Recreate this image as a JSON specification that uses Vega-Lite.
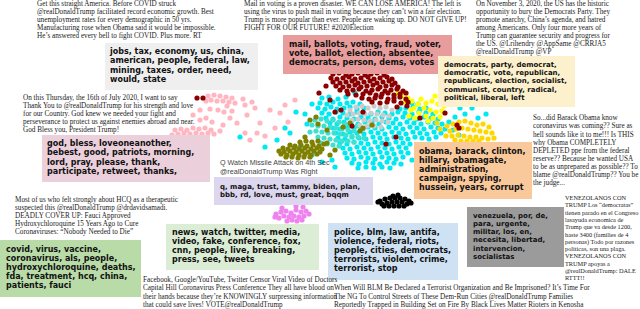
{
"$schema": "https://vega.github.io/schema/vega-lite/v6.json",
"width": 640, "height": 309, "padding": 0, "autosize": {"type": "none"},
"background": "white",
"config": {"view": {"stroke": null}},
"datasets": {
"pts": [
{"c":"c","x":322,"y":98},{"c":"c","x":329,"y":97},{"c":"c","x":338,"y":99},{"c":"c","x":346,"y":97},
{"c":"c","x":320,"y":103},{"c":"c","x":327,"y":104},{"c":"c","x":333,"y":102},{"c":"c","x":340,"y":104},{"c":"c","x":347,"y":103},{"c":"c","x":353,"y":102},{"c":"c","x":360,"y":104},{"c":"c","x":412,"y":103},{"c":"c","x":418,"y":104},
{"c":"c","x":318,"y":108},{"c":"c","x":325,"y":109},{"c":"c","x":331,"y":107},{"c":"c","x":337,"y":109},{"c":"c","x":344,"y":108},{"c":"c","x":350,"y":107},{"c":"c","x":357,"y":109},{"c":"c","x":364,"y":108},{"c":"c","x":400,"y":109},{"c":"c","x":406,"y":108},{"c":"c","x":413,"y":107},{"c":"c","x":420,"y":109},{"c":"c","x":426,"y":108},
{"c":"c","x":322,"y":113},{"c":"c","x":329,"y":114},{"c":"c","x":336,"y":112},{"c":"c","x":343,"y":113},{"c":"c","x":350,"y":114},{"c":"c","x":357,"y":112},{"c":"c","x":364,"y":113},{"c":"c","x":371,"y":114},{"c":"c","x":378,"y":112},{"c":"c","x":385,"y":113},{"c":"c","x":392,"y":114},{"c":"c","x":398,"y":112},{"c":"c","x":405,"y":113},{"c":"c","x":412,"y":114},{"c":"c","x":419,"y":112},{"c":"c","x":426,"y":113},{"c":"c","x":433,"y":114},
{"c":"c","x":326,"y":118},{"c":"c","x":333,"y":119},{"c":"c","x":340,"y":117},{"c":"c","x":347,"y":118},{"c":"c","x":354,"y":119},{"c":"c","x":361,"y":117},{"c":"c","x":368,"y":118},{"c":"c","x":375,"y":119},{"c":"c","x":382,"y":117},{"c":"c","x":389,"y":118},{"c":"c","x":396,"y":119},{"c":"c","x":403,"y":117},{"c":"c","x":410,"y":118},{"c":"c","x":417,"y":119},{"c":"c","x":424,"y":117},{"c":"c","x":431,"y":118},{"c":"c","x":438,"y":119},
{"c":"c","x":330,"y":123},{"c":"c","x":337,"y":124},{"c":"c","x":344,"y":122},{"c":"c","x":351,"y":123},{"c":"c","x":358,"y":124},{"c":"c","x":365,"y":122},{"c":"c","x":372,"y":123},{"c":"c","x":379,"y":124},{"c":"c","x":386,"y":122},{"c":"c","x":393,"y":123},{"c":"c","x":400,"y":124},{"c":"c","x":407,"y":122},{"c":"c","x":414,"y":123},{"c":"c","x":421,"y":124},{"c":"c","x":428,"y":122},{"c":"c","x":435,"y":123},{"c":"c","x":442,"y":124},{"c":"c","x":449,"y":122},
{"c":"c","x":333,"y":128},{"c":"c","x":340,"y":129},{"c":"c","x":347,"y":127},{"c":"c","x":354,"y":128},{"c":"c","x":361,"y":129},{"c":"c","x":368,"y":127},{"c":"c","x":375,"y":128},{"c":"c","x":382,"y":129},{"c":"c","x":389,"y":127},{"c":"c","x":396,"y":128},{"c":"c","x":403,"y":129},{"c":"c","x":410,"y":127},{"c":"c","x":417,"y":128},{"c":"c","x":424,"y":129},{"c":"c","x":431,"y":127},{"c":"c","x":438,"y":128},{"c":"c","x":445,"y":129},
{"c":"c","x":336,"y":133},{"c":"c","x":343,"y":134},{"c":"c","x":350,"y":132},{"c":"c","x":357,"y":133},{"c":"c","x":364,"y":134},{"c":"c","x":371,"y":132},{"c":"c","x":378,"y":133},{"c":"c","x":385,"y":134},{"c":"c","x":392,"y":132},{"c":"c","x":399,"y":133},{"c":"c","x":406,"y":134},{"c":"c","x":413,"y":132},{"c":"c","x":420,"y":133},{"c":"c","x":427,"y":134},{"c":"c","x":434,"y":132},{"c":"c","x":441,"y":133},
{"c":"c","x":338,"y":138},{"c":"c","x":345,"y":139},{"c":"c","x":352,"y":137},{"c":"c","x":359,"y":138},{"c":"c","x":366,"y":139},{"c":"c","x":373,"y":137},{"c":"c","x":380,"y":138},{"c":"c","x":387,"y":139},{"c":"c","x":394,"y":137},{"c":"c","x":401,"y":138},{"c":"c","x":408,"y":139},{"c":"c","x":415,"y":137},{"c":"c","x":422,"y":138},{"c":"c","x":429,"y":139},{"c":"c","x":436,"y":137},
{"c":"c","x":340,"y":143},{"c":"c","x":347,"y":144},{"c":"c","x":354,"y":142},{"c":"c","x":361,"y":143},{"c":"c","x":368,"y":144},{"c":"c","x":375,"y":142},{"c":"c","x":382,"y":143},{"c":"c","x":389,"y":144},{"c":"c","x":396,"y":142},{"c":"c","x":403,"y":143},{"c":"c","x":410,"y":144},
{"c":"c","x":343,"y":148},{"c":"c","x":350,"y":149},{"c":"c","x":357,"y":147},{"c":"c","x":364,"y":148},{"c":"c","x":371,"y":149},{"c":"c","x":378,"y":147},{"c":"c","x":385,"y":148},{"c":"c","x":392,"y":149},{"c":"c","x":399,"y":147},{"c":"c","x":406,"y":148},
{"c":"c","x":345,"y":153},{"c":"c","x":352,"y":154},{"c":"c","x":359,"y":152},{"c":"c","x":366,"y":153},{"c":"c","x":373,"y":154},{"c":"c","x":380,"y":152},{"c":"c","x":387,"y":153},{"c":"c","x":394,"y":154},{"c":"c","x":401,"y":152},{"c":"c","x":408,"y":153},
{"c":"c","x":347,"y":158},{"c":"c","x":354,"y":159},{"c":"c","x":361,"y":157},{"c":"c","x":368,"y":158},{"c":"c","x":375,"y":159},{"c":"c","x":382,"y":157},{"c":"c","x":389,"y":158},{"c":"c","x":396,"y":159},{"c":"c","x":403,"y":157},
{"c":"c","x":352,"y":163},{"c":"c","x":359,"y":164},{"c":"c","x":366,"y":162},{"c":"c","x":373,"y":163},{"c":"c","x":380,"y":164},{"c":"c","x":387,"y":162},{"c":"c","x":394,"y":163},{"c":"c","x":401,"y":164},
{"c":"c","x":358,"y":168},{"c":"c","x":366,"y":167},{"c":"c","x":374,"y":168},{"c":"c","x":382,"y":167},{"c":"c","x":390,"y":168},
{"c":"c","x":240,"y":137},{"c":"c","x":277,"y":140},{"c":"c","x":290,"y":133},{"c":"c","x":307,"y":124},{"c":"c","x":296,"y":112},{"c":"c","x":285,"y":128},{"c":"c","x":265,"y":147},{"c":"c","x":300,"y":147},{"c":"c","x":312,"y":155},{"c":"c","x":322,"y":162},{"c":"c","x":332,"y":160},{"c":"c","x":335,"y":167},{"c":"c","x":455,"y":117},{"c":"c","x":465,"y":114},{"c":"c","x":478,"y":118},{"c":"c","x":486,"y":114},{"c":"c","x":472,"y":108},{"c":"c","x":460,"y":108},{"c":"c","x":355,"y":93},{"c":"c","x":312,"y":104},{"c":"c","x":305,"y":114},{"c":"c","x":453,"y":130},{"c":"c","x":459,"y":135},{"c":"c","x":412,"y":160},
{"c":"t","x":315,"y":120},{"c":"t","x":321,"y":119},{"c":"t","x":327,"y":121},{"c":"t","x":333,"y":120},{"c":"t","x":339,"y":122},{"c":"t","x":345,"y":124},{"c":"t","x":312,"y":125},{"c":"t","x":318,"y":126},{"c":"t","x":324,"y":126},{"c":"t","x":330,"y":127},{"c":"t","x":336,"y":128},{"c":"t","x":342,"y":129},{"c":"t","x":348,"y":130},{"c":"t","x":354,"y":131},{"c":"t","x":316,"y":131},{"c":"t","x":322,"y":132},{"c":"t","x":328,"y":133},{"c":"t","x":334,"y":133},{"c":"t","x":340,"y":134},{"c":"t","x":346,"y":135},{"c":"t","x":352,"y":136},{"c":"t","x":358,"y":137},{"c":"t","x":364,"y":138},{"c":"t","x":318,"y":137},{"c":"t","x":324,"y":138},{"c":"t","x":330,"y":139},{"c":"t","x":336,"y":140},{"c":"t","x":342,"y":141},{"c":"t","x":348,"y":141},{"c":"t","x":354,"y":142},{"c":"t","x":321,"y":143},{"c":"t","x":327,"y":144},{"c":"t","x":333,"y":145},{"c":"t","x":339,"y":146},{"c":"t","x":310,"y":132},{"c":"t","x":357,"y":126},{"c":"t","x":363,"y":129},
{"c":"l","x":350,"y":110},{"c":"l","x":356,"y":107},{"c":"l","x":362,"y":106},{"c":"l","x":368,"y":108},{"c":"l","x":374,"y":106},{"c":"l","x":380,"y":108},{"c":"l","x":386,"y":107},{"c":"l","x":392,"y":110},{"c":"l","x":347,"y":115},{"c":"l","x":353,"y":114},{"c":"l","x":359,"y":113},{"c":"l","x":365,"y":114},{"c":"l","x":371,"y":113},{"c":"l","x":377,"y":114},{"c":"l","x":383,"y":115},{"c":"l","x":389,"y":116},{"c":"l","x":352,"y":120},{"c":"l","x":358,"y":119},{"c":"l","x":364,"y":120},{"c":"l","x":370,"y":121},{"c":"l","x":376,"y":120},{"c":"l","x":382,"y":121},{"c":"l","x":388,"y":122},{"c":"l","x":360,"y":125},{"c":"l","x":367,"y":126},{"c":"l","x":374,"y":126},{"c":"l","x":381,"y":127},
{"c":"o","x":300,"y":142},{"c":"o","x":306,"y":141},{"c":"o","x":312,"y":142},{"c":"o","x":318,"y":141},
{"c":"o","x":290,"y":145},{"c":"o","x":295,"y":146},{"c":"o","x":301,"y":145},{"c":"o","x":307,"y":146},{"c":"o","x":313,"y":145},{"c":"o","x":319,"y":146},{"c":"o","x":324,"y":144},
{"c":"o","x":283,"y":148},{"c":"o","x":288,"y":149},{"c":"o","x":294,"y":148},{"c":"o","x":299,"y":149},{"c":"o","x":305,"y":148},{"c":"o","x":311,"y":149},{"c":"o","x":317,"y":148},{"c":"o","x":322,"y":149},
{"c":"o","x":279,"y":151},{"c":"o","x":284,"y":152},{"c":"o","x":290,"y":151},{"c":"o","x":296,"y":152},{"c":"o","x":302,"y":151},{"c":"o","x":308,"y":152},{"c":"o","x":314,"y":151},{"c":"o","x":320,"y":152},
{"c":"o","x":281,"y":154},{"c":"o","x":287,"y":155},{"c":"o","x":293,"y":154},{"c":"o","x":299,"y":155},{"c":"o","x":305,"y":154},{"c":"o","x":311,"y":155},{"c":"o","x":317,"y":154},
{"c":"o","x":286,"y":157},{"c":"o","x":292,"y":157},{"c":"o","x":298,"y":158},{"c":"o","x":304,"y":157},{"c":"o","x":310,"y":157},
{"c":"o","x":310,"y":120},{"c":"o","x":316,"y":117},{"c":"o","x":318,"y":124},{"c":"o","x":327,"y":130},{"c":"o","x":305,"y":137},{"c":"o","x":343,"y":127},{"c":"o","x":350,"y":123},{"c":"o","x":363,"y":128},{"c":"o","x":372,"y":125},{"c":"o","x":360,"y":131},{"c":"o","x":327,"y":143},{"c":"o","x":335,"y":150},{"c":"o","x":330,"y":155},
{"c":"p","x":208,"y":96},{"c":"p","x":214,"y":95},{"c":"p","x":220,"y":96},{"c":"p","x":226,"y":97},{"c":"p","x":232,"y":98},{"c":"p","x":211,"y":100},{"c":"p","x":217,"y":101},{"c":"p","x":223,"y":101},{"c":"p","x":229,"y":102},{"c":"p","x":206,"y":101},{"c":"p","x":235,"y":103},
{"c":"p","x":243,"y":99},{"c":"p","x":252,"y":102},{"c":"p","x":227,"y":106},{"c":"p","x":245,"y":105},{"c":"p","x":255,"y":108},{"c":"p","x":210,"y":109},{"c":"p","x":218,"y":110},{"c":"p","x":224,"y":112},{"c":"p","x":232,"y":111},{"c":"p","x":200,"y":110},{"c":"p","x":193,"y":115},{"c":"p","x":247,"y":115},{"c":"p","x":260,"y":123},{"c":"p","x":237,"y":123},{"c":"p","x":223,"y":125},{"c":"p","x":212,"y":122},{"c":"p","x":270,"y":110},{"c":"p","x":280,"y":113},{"c":"p","x":288,"y":122},{"c":"p","x":257,"y":133},{"c":"p","x":275,"y":128},{"c":"p","x":265,"y":136},{"c":"p","x":245,"y":133},{"c":"p","x":285,"y":105},{"c":"p","x":295,"y":100},{"c":"p","x":230,"y":118},{"c":"p","x":250,"y":140},{"c":"p","x":200,"y":120},{"c":"p","x":206,"y":118},
{"c":"p","x":175,"y":130},{"c":"p","x":181,"y":129},{"c":"p","x":187,"y":130},{"c":"p","x":193,"y":128},{"c":"p","x":199,"y":129},{"c":"p","x":205,"y":128},{"c":"p","x":211,"y":130},{"c":"p","x":178,"y":134},{"c":"p","x":184,"y":133},{"c":"p","x":190,"y":134},{"c":"p","x":196,"y":133},{"c":"p","x":202,"y":134},{"c":"p","x":208,"y":133},{"c":"p","x":214,"y":134},{"c":"p","x":172,"y":135},{"c":"p","x":220,"y":131},
{"c":"y","x":402,"y":96},{"c":"y","x":408,"y":98},{"c":"y","x":405,"y":102},{"c":"y","x":412,"y":101},{"c":"y","x":418,"y":104},{"c":"y","x":414,"y":108},{"c":"y","x":421,"y":99},{"c":"y","x":426,"y":103},{"c":"y","x":432,"y":101},{"c":"y","x":438,"y":104},{"c":"y","x":444,"y":106},{"c":"y","x":424,"y":108},{"c":"y","x":430,"y":110},{"c":"y","x":436,"y":112},{"c":"y","x":442,"y":111},{"c":"y","x":419,"y":113},{"c":"y","x":426,"y":116},{"c":"y","x":433,"y":118},{"c":"y","x":440,"y":117},{"c":"y","x":411,"y":110},{"c":"y","x":428,"y":121},{"c":"y","x":409,"y":116},{"c":"y","x":415,"y":118},{"c":"y","x":435,"y":96},{"c":"y","x":398,"y":93},
{"c":"g","x":447,"y":126},{"c":"g","x":453,"y":124},{"c":"g","x":459,"y":122},{"c":"g","x":465,"y":121},{"c":"g","x":471,"y":123},{"c":"g","x":477,"y":125},{"c":"g","x":483,"y":124},{"c":"g","x":489,"y":127},{"c":"g","x":450,"y":131},{"c":"g","x":456,"y":129},{"c":"g","x":462,"y":128},{"c":"g","x":468,"y":129},{"c":"g","x":474,"y":130},{"c":"g","x":480,"y":131},{"c":"g","x":486,"y":132},{"c":"g","x":492,"y":133},{"c":"g","x":446,"y":136},{"c":"g","x":452,"y":136},{"c":"g","x":458,"y":135},{"c":"g","x":464,"y":136},{"c":"g","x":470,"y":137},{"c":"g","x":476,"y":137},{"c":"g","x":482,"y":138},{"c":"g","x":488,"y":139},{"c":"g","x":494,"y":138},{"c":"g","x":455,"y":140},{"c":"g","x":461,"y":141},{"c":"g","x":467,"y":141},{"c":"g","x":473,"y":141},{"c":"g","x":479,"y":141},{"c":"g","x":440,"y":129},{"c":"g","x":437,"y":123},
{"c":"m","x":333,"y":74},{"c":"m","x":339,"y":73},{"c":"m","x":346,"y":75},{"c":"m","x":352,"y":74},{"c":"m","x":358,"y":73},{"c":"m","x":365,"y":75},{"c":"m","x":371,"y":74},{"c":"m","x":377,"y":73},{"c":"m","x":384,"y":75},
{"c":"m","x":331,"y":78},{"c":"m","x":337,"y":79},{"c":"m","x":343,"y":78},{"c":"m","x":349,"y":77},{"c":"m","x":355,"y":79},{"c":"m","x":361,"y":78},{"c":"m","x":368,"y":77},{"c":"m","x":374,"y":79},{"c":"m","x":380,"y":78},{"c":"m","x":387,"y":77},{"c":"m","x":392,"y":79},
{"c":"m","x":333,"y":82},{"c":"m","x":340,"y":83},{"c":"m","x":346,"y":82},{"c":"m","x":352,"y":81},{"c":"m","x":358,"y":83},{"c":"m","x":364,"y":82},{"c":"m","x":370,"y":81},{"c":"m","x":377,"y":83},{"c":"m","x":383,"y":82},{"c":"m","x":389,"y":81},{"c":"m","x":395,"y":83},
{"c":"m","x":336,"y":86},{"c":"m","x":343,"y":87},{"c":"m","x":349,"y":86},{"c":"m","x":355,"y":85},{"c":"m","x":361,"y":87},{"c":"m","x":367,"y":86},{"c":"m","x":373,"y":85},{"c":"m","x":380,"y":87},{"c":"m","x":386,"y":86},{"c":"m","x":392,"y":85},{"c":"m","x":398,"y":87},
{"c":"m","x":340,"y":90},{"c":"m","x":347,"y":91},{"c":"m","x":353,"y":90},{"c":"m","x":359,"y":89},{"c":"m","x":366,"y":91},{"c":"m","x":372,"y":90},{"c":"m","x":378,"y":89},{"c":"m","x":385,"y":91},{"c":"m","x":391,"y":90},{"c":"m","x":397,"y":89},{"c":"m","x":403,"y":91},
{"c":"m","x":348,"y":94},{"c":"m","x":356,"y":95},{"c":"m","x":363,"y":94},{"c":"m","x":370,"y":93},{"c":"m","x":376,"y":95},{"c":"m","x":382,"y":94},{"c":"m","x":388,"y":93},{"c":"m","x":394,"y":95},{"c":"m","x":400,"y":94},{"c":"m","x":406,"y":93},
{"c":"m","x":362,"y":98},{"c":"m","x":369,"y":99},{"c":"m","x":375,"y":98},{"c":"m","x":381,"y":97},{"c":"m","x":388,"y":99},{"c":"m","x":394,"y":98},{"c":"m","x":400,"y":97},{"c":"m","x":406,"y":99},
{"c":"m","x":372,"y":102},{"c":"m","x":380,"y":103},{"c":"m","x":387,"y":102},{"c":"m","x":394,"y":101},{"c":"m","x":401,"y":103},{"c":"m","x":408,"y":102},
{"c":"m","x":335,"y":112},{"c":"m","x":341,"y":110},{"c":"m","x":363,"y":112},{"c":"m","x":397,"y":107},{"c":"m","x":407,"y":106},{"c":"m","x":459,"y":128},{"c":"m","x":396,"y":137},{"c":"m","x":445,"y":113},{"c":"m","x":457,"y":125},{"c":"m","x":420,"y":118},{"c":"m","x":326,"y":86},{"c":"m","x":319,"y":93},{"c":"m","x":197,"y":98},{"c":"m","x":203,"y":98},{"c":"m","x":352,"y":126},{"c":"m","x":386,"y":144},{"c":"m","x":330,"y":100},
{"c":"v","x":276,"y":214},{"c":"v","x":281,"y":212},{"c":"v","x":286,"y":211},{"c":"v","x":291,"y":213},{"c":"v","x":296,"y":210},{"c":"v","x":301,"y":212},{"c":"v","x":306,"y":211},{"c":"v","x":279,"y":218},{"c":"v","x":284,"y":216},{"c":"v","x":289,"y":217},{"c":"v","x":294,"y":216},{"c":"v","x":299,"y":217},{"c":"v","x":304,"y":216},{"c":"v","x":309,"y":214},{"c":"v","x":287,"y":221},{"c":"v","x":292,"y":220},{"c":"v","x":297,"y":221},{"c":"v","x":302,"y":220},{"c":"v","x":275,"y":217},{"c":"v","x":296,"y":206},{"c":"v","x":303,"y":207},{"c":"v","x":282,"y":208},
{"c":"k","x":380,"y":201},{"c":"k","x":385,"y":199},{"c":"k","x":390,"y":198},{"c":"k","x":395,"y":198},{"c":"k","x":400,"y":198},{"c":"k","x":405,"y":199},{"c":"k","x":409,"y":201},{"c":"k","x":382,"y":204},{"c":"k","x":387,"y":203},{"c":"k","x":392,"y":202},{"c":"k","x":397,"y":202},{"c":"k","x":402,"y":202},{"c":"k","x":407,"y":204},{"c":"k","x":411,"y":203},{"c":"k","x":384,"y":206},{"c":"k","x":389,"y":206},{"c":"k","x":394,"y":206},{"c":"k","x":399,"y":206},{"c":"k","x":404,"y":206},{"c":"k","x":378,"y":202},{"c":"k","x":393,"y":196},{"c":"k","x":398,"y":195}
],
"boxes": [
{"b":"jobs","x":105,"x2":258,"y":43,"y2":90},
{"b":"mail","x":283,"x2":452,"y":35,"y2":74},
{"b":"dem","x":438,"x2":575,"y":56,"y2":107},
{"b":"god","x":42,"x2":210,"y":135,"y2":182},
{"b":"obama","x":414,"x2":532,"y":142,"y2":199},
{"b":"q","x":214,"x2":373,"y":177,"y2":205},
{"b":"covid","x":0,"x2":141,"y":240,"y2":297},
{"b":"news","x":166,"x2":319,"y":224,"y2":270},
{"b":"police","x":328,"x2":458,"y":223,"y2":280},
{"b":"ven","x":467,"x2":564,"y":207,"y2":267}
],
"txt": [
{"g":"k8","x":110,"y":52.3,"t":"jobs, tax, economy, us, china,"},
{"g":"k8","x":110,"y":61.4,"t":"american, people, federal, law,"},
{"g":"k8","x":110,"y":70.5,"t":"mining, taxes, order, need,"},
{"g":"k8","x":110,"y":79.6,"t":"would, state"},
{"g":"k8","x":289,"y":45,"t":"mail, ballots, voting, fraud, voter,"},
{"g":"k8","x":289,"y":54,"t":"vote, ballot, election, absentee,"},
{"g":"k8","x":289,"y":63,"t":"democrats, person, dems, votes"},
{"g":"k8","x":47,"y":144.3,"t":"god, bless, loveoneanother,"},
{"g":"k8","x":47,"y":153.4,"t":"bebest, good, patriots, morning,"},
{"g":"k8","x":47,"y":162.5,"t":"lord, pray, please, thank,"},
{"g":"k8","x":47,"y":171.6,"t":"participate, retweet, thanks,"},
{"g":"k8","x":419,"y":152,"t":"obama, barack, clinton,"},
{"g":"k8","x":419,"y":161,"t":"hillary, obamagate,"},
{"g":"k8","x":419,"y":170,"t":"administration,"},
{"g":"k8","x":419,"y":179,"t":"campaign, spying,"},
{"g":"k8","x":419,"y":188,"t":"hussein, years, corrupt"},
{"g":"k8","x":6,"y":250,"t":"covid, virus, vaccine,"},
{"g":"k8","x":6,"y":259,"t":"coronavirus, als, people,"},
{"g":"k8","x":6,"y":268,"t":"hydroxychloroquine, deaths,"},
{"g":"k8","x":6,"y":277,"t":"fda, treatment, hcq, china,"},
{"g":"k8","x":6,"y":286,"t":"patients, fauci"},
{"g":"k8","x":172,"y":232.7,"t":"news, watch, twitter, media,"},
{"g":"k8","x":172,"y":241.7,"t":"video, fake, conference, fox,"},
{"g":"k8","x":172,"y":250.7,"t":"cnn, people, live, breaking,"},
{"g":"k8","x":172,"y":259.7,"t":"press, see, tweets"},
{"g":"k8","x":334,"y":233,"t":"police, blm, law, antifa,"},
{"g":"k8","x":334,"y":242,"t":"violence, federal, riots,"},
{"g":"k8","x":334,"y":251,"t":"people, cities, democrats,"},
{"g":"k8","x":334,"y":260,"t":"terrorists, violent, crime,"},
{"g":"k8","x":334,"y":269,"t":"terrorist, stop"},
{"g":"k7","x":444,"y":65,"t":"democrats, party, democrat,"},
{"g":"k7","x":444,"y":73.2,"t":"democratic, vote, republican,"},
{"g":"k7","x":444,"y":81.4,"t":"republicans, election, socialist,"},
{"g":"k7","x":444,"y":89.6,"t":"communist, country, radical,"},
{"g":"k7","x":444,"y":97.8,"t":"political, liberal, left"},
{"g":"k7","x":220,"y":186.7,"t":"q, maga, trust, tammy, biden, plan,"},
{"g":"k7","x":220,"y":195,"t":"bbb, rd, love, must, great, bqqm"},
{"g":"k7","x":473,"y":215.7,"t":"venezuela, por, de,"},
{"g":"k7","x":473,"y":223.9,"t":"para, urgente,"},
{"g":"k7","x":473,"y":232.1,"t":"militar, los, en,"},
{"g":"k7","x":473,"y":240.3,"t":"necesita, libertad,"},
{"g":"k7","x":473,"y":248.5,"t":"intervencion,"},
{"g":"k7","x":473,"y":256.7,"t":"socialistas"},
{"g":"tw","x":37,"y":3.5,"t":"Get this straight America. Before COVID struck"},
{"g":"tw","x":37,"y":11.6,"t":"@realDonaldTrump facilitated record economic growth. Best"},
{"g":"tw","x":37,"y":19.7,"t":"unemployment rates for every demographic in 50 yrs."},
{"g":"tw","x":37,"y":27.8,"t":"Manufacturing rose when Obama said it would be impossible."},
{"g":"tw","x":37,"y":35.9,"t":"He’s answered every bell to fight COVID. Plus more. RT"},
{"g":"tw","x":244,"y":3.5,"t":"Mail in voting is a proven disaster. WE CAN LOSE AMERICA! The left is"},
{"g":"tw","x":244,"y":11.6,"t":"using the virus to push mail in voting because they can’t win a fair election."},
{"g":"tw","x":244,"y":19.7,"t":"Trump is more popular than ever. People are waking up. DO NOT GIVE UP!"},
{"g":"tw","x":244,"y":27.8,"t":"FIGHT FOR OUR FUTURE! #2020Election"},
{"g":"tw","x":476,"y":3.5,"t":"On November 3, 2020, the US has the historic"},
{"g":"tw","x":476,"y":11.6,"t":"opportunity to bury the Democrats Party. They"},
{"g":"tw","x":476,"y":19.7,"t":"promote anarchy, China’s agenda, and hatred"},
{"g":"tw","x":476,"y":27.8,"t":"among Americans. Only four more years of"},
{"g":"tw","x":476,"y":35.9,"t":"Trump can guarantee security and progress for"},
{"g":"tw","x":476,"y":44,"t":"the US. @Lrihendry @AppSame @CRRJA5"},
{"g":"tw","x":476,"y":52.1,"t":"@realDonaldTrump @VP"},
{"g":"tw","x":23,"y":97.7,"t":"On this Thursday, the 16th of July 2020, I want to say"},
{"g":"tw","x":23,"y":105.8,"t":"Thank You to @realDonaldTrump for his strength and love"},
{"g":"tw","x":23,"y":113.9,"t":"for our Country. God knew we needed your fight and"},
{"g":"tw","x":23,"y":122,"t":"perseverance to protect us against enemies abroad and near."},
{"g":"tw","x":23,"y":130.1,"t":"God Bless you, President Trump!"},
{"g":"tw","x":533,"y":118.3,"t":"So...did Barack Obama know"},
{"g":"tw","x":533,"y":126.4,"t":"coronavirus was coming?? Sure as"},
{"g":"tw","x":533,"y":134.5,"t":"hell sounds like it to me!!! Is THIS"},
{"g":"tw","x":533,"y":142.6,"t":"why Obama COMPLETELY"},
{"g":"tw","x":533,"y":150.7,"t":"DEPLETED ppe from the federal"},
{"g":"tw","x":533,"y":158.8,"t":"reserve?? Because he wanted USA"},
{"g":"tw","x":533,"y":166.9,"t":"to be as unprepared as possible?? To"},
{"g":"tw","x":533,"y":175,"t":"blame @realDonaldTrump?? You be"},
{"g":"tw","x":533,"y":183.1,"t":"the judge..."},
{"g":"tw","x":15,"y":200,"t":"Most of us who felt strongly about HCQ as a therapeutic"},
{"g":"tw","x":15,"y":208,"t":"suspected this @realDonaldTrump @drdavidsamadi."},
{"g":"tw","x":15,"y":216,"t":"DEADLY COVER UP: Fauci Approved"},
{"g":"tw","x":15,"y":224,"t":"Hydroxychloroquine 15 Years Ago to Cure"},
{"g":"tw","x":15,"y":232,"t":"Coronaviruses: “Nobody Needed to Die”"},
{"g":"tw","x":143,"y":280,"t":"Facebook, Google/YouTube, Twitter Censor Viral Video of Doctors"},
{"g":"tw","x":143,"y":288.3,"t":"Capital Hill Coronavirus Press Conference They all have blood on"},
{"g":"tw","x":143,"y":296.6,"t":"their hands because they’re KNOWINGLY surpressing information"},
{"g":"tw","x":143,"y":304.9,"t":"that could save lives! VOTE@realDonaldTrump"},
{"g":"tw","x":334,"y":288.3,"t":"When Will BLM Be Declared a Terrorist Organization and Be Imprisoned? It’s Time For"},
{"g":"tw","x":334,"y":296.6,"t":"The NG To Control Streets of These Dem-Run Cities @realDonaldTrump Families"},
{"g":"tw","x":334,"y":304.9,"t":"Reportedly Trapped in Building Set on Fire By Black Lives Matter Rioters in Kenosha"},
{"g":"vz","x":565,"y":198,"t":"VENEZOLANOS CON"},
{"g":"vz","x":565,"y":205.3,"t":"TRUMP Los “democratas”"},
{"g":"vz","x":565,"y":212.6,"t":"tienen parado en el Congreso"},
{"g":"vz","x":565,"y":219.9,"t":"lasayuda economica de"},
{"g":"vz","x":565,"y":227.2,"t":"Trump que va desde 1200,"},
{"g":"vz","x":565,"y":234.5,"t":"haste 3400 (families de 4"},
{"g":"vz","x":565,"y":241.8,"t":"personas) Todo por razones"},
{"g":"vz","x":565,"y":249.1,"t":"politicas, son una plaga."},
{"g":"vz","x":565,"y":256.4,"t":"VENEZOLANOS CON"},
{"g":"vz","x":565,"y":263.7,"t":"TRUMP apoyas a"},
{"g":"vz","x":565,"y":271,"t":"@realDonaldTrump: DALE"},
{"g":"vz","x":565,"y":278.3,"t":"RTTT!!"},
{"g":"q","x":220,"y":163.3,"t":"Q Watch Missile Attack on 4th Sec"},
{"g":"q","x":220,"y":171.5,"t":"@realDonaldTrump Was Right"}
]
},
"layer": [
{"data": {"name": "pts"}, "mark": {"type": "circle", "size": 27, "opacity": 1},
 "encoding": {
  "x": {"field": "x", "type": "quantitative", "scale": {"domain": [0, 640], "nice": false, "zero": false}, "axis": null},
  "y": {"field": "y", "type": "quantitative", "scale": {"domain": [0, 309], "nice": false, "zero": false, "reverse": true}, "axis": null},
  "color": {"field": "c", "type": "nominal", "legend": null, "scale": {"domain": ["c","t","l","o","p","y","g","m","v","k"], "range": ["#00e8f0","#40e0d0","#cccccc","#808000","#ffb6c1","#ffff00","#ffd700","#8b0000","#ee82ee","#000000"]}}
 }},
{"data": {"name": "boxes"}, "mark": {"type": "rect"},
 "encoding": {
  "x": {"field": "x", "type": "quantitative", "scale": {"domain": [0, 640], "nice": false, "zero": false}, "axis": null},
  "x2": {"field": "x2"},
  "y": {"field": "y", "type": "quantitative", "scale": {"domain": [0, 309], "nice": false, "zero": false, "reverse": true}, "axis": null},
  "y2": {"field": "y2"},
  "fill": {"field": "b", "type": "nominal", "legend": null, "scale": {"domain": ["jobs","mail","dem","god","obama","q","covid","news","police","ven"], "range": ["#efefef","#e89c9c","#fdf0cc","#ebd0db","#f9c89b","#dcd6ee","#b8dba8","#dcedd6","#cfe2f3","#9b9b9b"]}}
 }},
{"data": {"name": "txt"}, "transform": [{"filter": "datum.g == 'k8'"}],
 "mark": {"type": "text", "align": "left", "baseline": "middle", "font": "DejaVu Sans", "fontWeight": "bold", "fontSize": 8, "color": "#111111"},
 "encoding": {"x": {"field": "x", "type": "quantitative"}, "y": {"field": "y", "type": "quantitative"}, "text": {"field": "t"}}},
{"data": {"name": "txt"}, "transform": [{"filter": "datum.g == 'k7'"}],
 "mark": {"type": "text", "align": "left", "baseline": "middle", "font": "DejaVu Sans", "fontWeight": "bold", "fontSize": 7, "color": "#111111"},
 "encoding": {"x": {"field": "x", "type": "quantitative"}, "y": {"field": "y", "type": "quantitative"}, "text": {"field": "t"}}},
{"data": {"name": "txt"}, "transform": [{"filter": "datum.g == 'tw'"}],
 "mark": {"type": "text", "align": "left", "baseline": "middle", "font": "Liberation Serif", "fontSize": 7.2, "color": "#1a1a1a"},
 "encoding": {"x": {"field": "x", "type": "quantitative"}, "y": {"field": "y", "type": "quantitative"}, "text": {"field": "t"}}},
{"data": {"name": "txt"}, "transform": [{"filter": "datum.g == 'vz'"}],
 "mark": {"type": "text", "align": "left", "baseline": "middle", "font": "Liberation Serif", "fontSize": 6.3, "color": "#1a1a1a"},
 "encoding": {"x": {"field": "x", "type": "quantitative"}, "y": {"field": "y", "type": "quantitative"}, "text": {"field": "t"}}},
{"data": {"name": "txt"}, "transform": [{"filter": "datum.g == 'q'"}],
 "mark": {"type": "text", "align": "left", "baseline": "middle", "font": "Liberation Sans", "fontSize": 7.2, "color": "#444444"},
 "encoding": {"x": {"field": "x", "type": "quantitative"}, "y": {"field": "y", "type": "quantitative"}, "text": {"field": "t"}}}
]
}
